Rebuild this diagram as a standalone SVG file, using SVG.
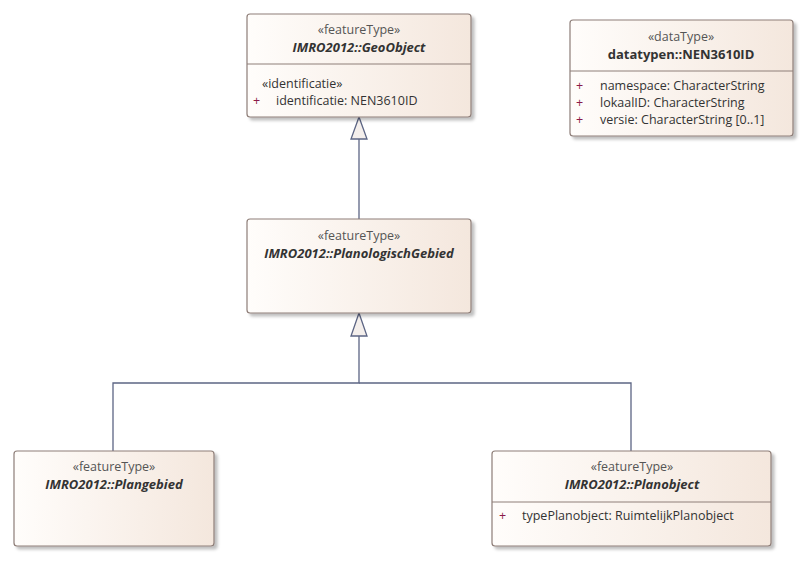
<svg xmlns="http://www.w3.org/2000/svg" width="808" height="587" viewBox="0 0 808 587">
<defs>
<linearGradient id="g" x1="0" y1="0" x2="1" y2="0">
<stop offset="0" stop-color="#FFFDFB"/>
<stop offset="1" stop-color="#F4E7DD"/>
</linearGradient>
<filter id="sh" x="-5%" y="-5%" width="115%" height="120%">
<feDropShadow dx="3" dy="3" stdDeviation="1.5" flood-color="#000" flood-opacity="0.25"/>
</filter>
</defs>
<style>
.box{fill:url(#g);stroke:#8E7E78;stroke-width:1.2;filter:url(#sh)}
.div{stroke:#8E7E78;stroke-width:1}
text{font-family:"Open Sans","Noto Sans","Liberation Sans",sans-serif;font-size:12.5px}
.st{fill:#555;text-anchor:middle}
.nm{fill:#333;font-weight:bold;font-style:italic;text-anchor:middle;font-size:13px}
.nb{fill:#333;font-weight:bold;text-anchor:middle;font-size:13px}
.at{fill:#333}
.pl{fill:#8B1A4A}
.ln{fill:none;stroke:#5C6584;stroke-width:1.3}
.tri{fill:#F4EFEC;stroke:#5C6584;stroke-width:1.3}
</style>
<g id="connectors">
<line class="ln" x1="359" y1="139" x2="359" y2="219"/>
<polygon class="tri" points="359,117 351,139 367,139"/>
<polyline class="ln" points="359,336 359,383 113,383 113,451"/>
<polyline class="ln" points="359,383 631,383 631,451"/>
<polygon class="tri" points="359,313 351,336 367,336"/>
</g>
<g id="GeoObject">
<rect class="box" x="247" y="14" width="224" height="103" rx="3"/>
<line class="div" x1="247" y1="64" x2="471" y2="64"/>
<text class="st" x="359" y="34">«featureType»</text>
<text class="nm" x="359" y="52">IMRO2012::GeoObject</text>
<text class="at" x="262" y="88">«identificatie»</text>
<text class="pl" x="253" y="105">+</text>
<text class="at" x="276" y="105">identificatie: NEN3610ID</text>
</g>
<g id="NEN3610ID">
<rect class="box" x="570" y="20" width="223" height="116" rx="3"/>
<line class="div" x1="570" y1="71" x2="793" y2="71"/>
<text class="st" x="681" y="41">«dataType»</text>
<text class="nb" x="681" y="59">datatypen::NEN3610ID</text>
<text class="pl" x="576" y="90">+</text>
<text class="at" x="600" y="90">namespace: CharacterString</text>
<text class="pl" x="576" y="107">+</text>
<text class="at" x="600" y="107">lokaalID: CharacterString</text>
<text class="pl" x="576" y="124">+</text>
<text class="at" x="600" y="124">versie: CharacterString [0..1]</text>
</g>
<g id="PlanologischGebied">
<rect class="box" x="247" y="219" width="224" height="94" rx="3"/>
<text class="st" x="359" y="240">«featureType»</text>
<text class="nm" x="359" y="258">IMRO2012::PlanologischGebied</text>
</g>
<g id="Plangebied">
<rect class="box" x="14" y="451" width="200" height="95" rx="3"/>
<text class="st" x="114" y="471">«featureType»</text>
<text class="nm" x="114" y="489">IMRO2012::Plangebied</text>
</g>
<g id="Planobject">
<rect class="box" x="492" y="451" width="279" height="95" rx="3"/>
<line class="div" x1="492" y1="502" x2="771" y2="502"/>
<text class="st" x="632" y="471">«featureType»</text>
<text class="nm" x="632" y="489">IMRO2012::Planobject</text>
<text class="pl" x="499" y="520">+</text>
<text class="at" x="522" y="520">typePlanobject: RuimtelijkPlanobject</text>
</g>
</svg>
